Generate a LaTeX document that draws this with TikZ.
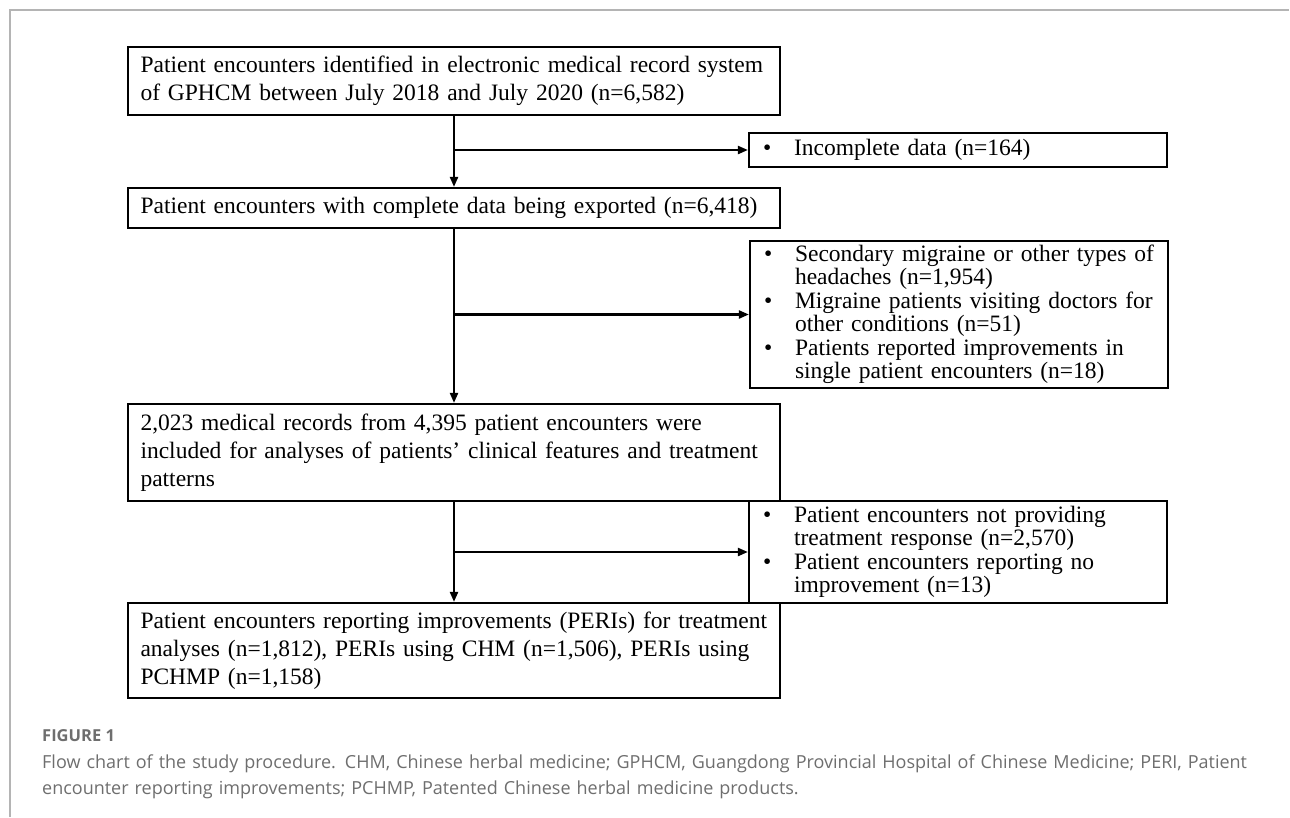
\documentclass[tikz,border=0pt]{standalone}
\usepackage{fontspec}
\setmainfont{Liberation Serif}
\newfontfamily\capfont{Open Sans}
\usetikzlibrary{arrows.meta}
\definecolor{framegray}{HTML}{B4B4B4}
\definecolor{capgray}{HTML}{6E6E6E}
\newcommand{\jline}[1]{\makebox[618pt][s]{#1}}
\newcommand{\sjline}[1]{\makebox[354pt][s]{#1}}
\newcommand{\bitem}[1]{\makebox[31pt][l]{\textbullet}#1}
\newcommand{\cont}[1]{\hspace*{31pt}#1}
\lineskiplimit=-100pt
\begin{document}
\begin{tikzpicture}[x=1pt,y=-1pt,
  mainbox/.style={draw, line width=2.2pt, minimum width=652pt, text width=627pt,
    inner xsep=12.5pt, inner ysep=0pt, align=left,
    font=\fontsize{23.5}{28}\selectfont},
  sidebox/.style={draw, line width=2.2pt, text width=390pt, minimum width=418pt,
    inner xsep=14pt, inner ysep=0pt, align=left,
    font=\fontsize{23.5}{23.5}\selectfont},
  arr/.style={line width=2.2pt, -{Triangle[length=10pt,width=8pt]}},
  captext/.style={anchor=base west, inner sep=0pt, text=capgray, align=left}]
\useasboundingbox (0,0) rectangle (1290,817);
\draw[framegray, line width=2pt] (10,817) -- (10,10) -- (1289,10);

\node[mainbox, minimum height=68pt] (b1) at (454,81)
  {\jline{Patient encounters identified in electronic medical record system}\\
   of GPHCM between July 2018 and July 2020 (n=6,582)};
\node[sidebox, minimum height=34pt] (s1) at (958,150)
  {\bitem{Incomplete data (n=164)}};
\node[mainbox, minimum height=40pt] (b2) at (454,208)
  {Patient encounters with complete data being exported (n=6,418)};
\node[sidebox, minimum height=147pt] (s2) at (959,314.5)
  {\bitem{\sjline{Secondary migraine or other types of}}\\
   \cont{headaches (n=1,954)}\\
   \bitem{\sjline{Migraine patients visiting doctors for}}\\
   \cont{other conditions (n=51)}\\
   \bitem{Patients reported improvements in}\\
   \cont{single patient encounters (n=18)}};
\node[mainbox, minimum height=97pt] (b3) at (454,452.5)
  {2,023 medical records from 4,395 patient encounters were\\
   \jline{included for analyses of patients’ clinical features and treatment}\\
   patterns};
\node[sidebox, minimum height=102pt] (s3) at (958,552)
  {\bitem{Patient encounters not providing}\\
   \cont{treatment response (n=2,570)}\\
   \bitem{Patient encounters reporting no}\\
   \cont{improvement (n=13)}};
\node[mainbox, minimum height=95pt] (b4) at (454,650.5)
  {\jline{Patient encounters reporting improvements (PERIs) for treatment}\\
   \jline{analyses (n=1,812), PERIs using CHM (n=1,506), PERIs using}\\
   PCHMP (n=1,158)};

\draw[arr] (b1.south) -- (b2.north);
\draw[arr] (b1.south |- s1.west) -- (s1.west);
\draw[arr] (b2.south) -- (b3.north);
\draw[arr] (b2.south |- s2.west) -- (s2.west);
\draw[arr] (b3.south) -- (b4.north);
\draw[arr] (b3.south |- s3.west) -- (s3.west);

\node[captext, font=\capfont\bfseries\fontsize{16.5}{18}\selectfont] (fig) at (42,741) {FIGURE 1};
\node[captext, text width=1240pt, font=\capfont\fontsize{18}{26.5}\selectfont] (cap) at (42,768)
  {Flow chart of the study procedure. CHM, Chinese herbal medicine; GPHCM, Guangdong Provincial Hospital of Chinese Medicine; PERI, Patient\\
   encounter reporting improvements; PCHMP, Patented Chinese herbal medicine products.};
\end{tikzpicture}
\end{document}
